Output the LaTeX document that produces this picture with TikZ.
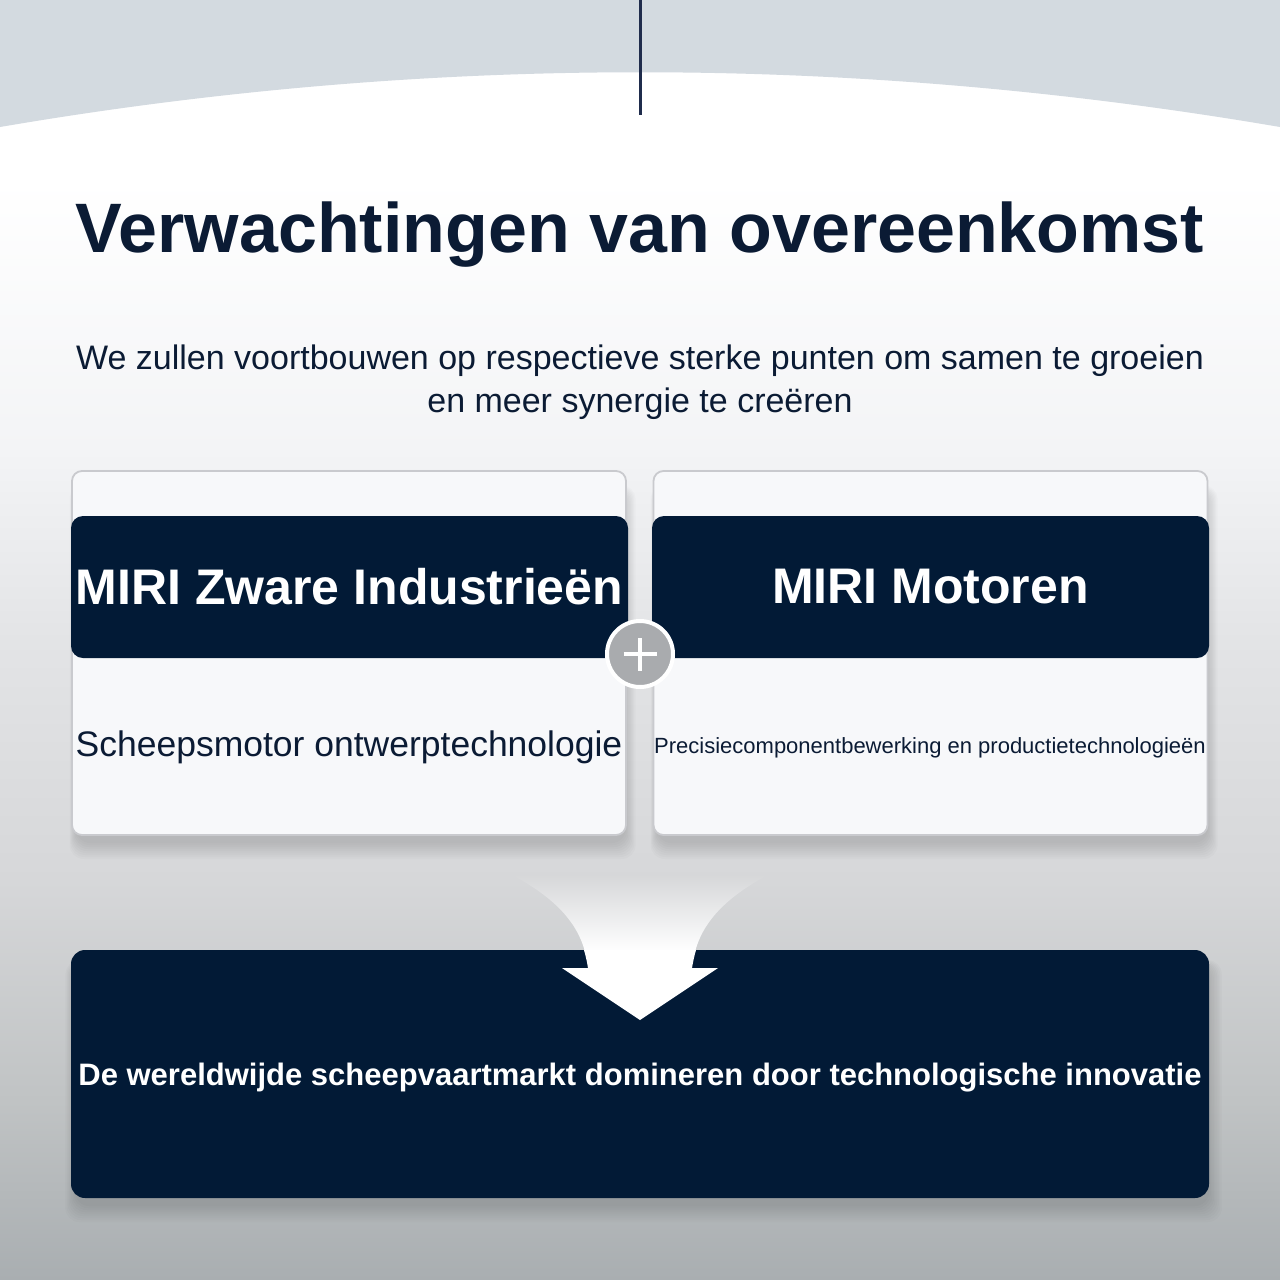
\documentclass[tikz,border=0pt]{standalone}
\usepackage{fontspec}
\setmainfont{Liberation Sans}
\definecolor{navy}{HTML}{021A36}
\definecolor{titleblue}{HTML}{0B1B34}
\definecolor{linenavy}{HTML}{1F2C4C}
\definecolor{topgray}{HTML}{D3DAE0}
\definecolor{cardfill}{HTML}{F7F8FA}
\definecolor{cardline}{HTML}{C9CACE}
\definecolor{plusgray}{HTML}{A9ABAE}
\definecolor{bgA}{HTML}{F3F4F6}
\definecolor{bgB}{HTML}{E3E4E6}
\definecolor{bgC}{HTML}{D6D7D9}
\definecolor{bgD}{HTML}{C0C3C4}
\definecolor{bgbottom}{HTML}{A9AEB1}
\definecolor{funneltop}{HTML}{D6D7D9}
% page background, 25bp = bottom of the page, 75bp = top of the page
\pgfdeclareverticalshading{pagebg}{100bp}{color(0bp)=(bgbottom);
  color(25bp)=(bgbottom); color(32bp)=(bgD); color(40.6bp)=(bgC);
  color(50bp)=(bgB); color(57.4bp)=(bgA); color(68bp)=(white);
  color(100bp)=(white)}
\tikzset{%
  % Specifications for style of nodes:
        base/.style = {rectangle, inner sep=0pt, text centered},
        card/.style = {base, rounded corners=10pt, fill=cardfill,
                       draw=cardline, line width=1.8pt,
                       minimum width=554pt, minimum height=364pt},
      header/.style = {base, rounded corners=12pt, fill=navy, text=white,
                       minimum width=557pt, minimum height=142pt,
                       font=\fontsize{50}{60}\selectfont\bfseries},
      result/.style = {base, rounded corners=14pt, fill=navy,
                       minimum width=1138pt, minimum height=248pt},
    bodytext/.style = {base, anchor=base, text=titleblue},
    plusmark/.style = {circle, fill=plusgray, draw=white, line width=4pt,
                       minimum size=66pt, inner sep=0pt},
  softshadow/.style = {black, opacity=0.016, rounded corners=14pt},
}

\begin{document}
\begin{tikzpicture}[x=1pt, y=-1pt]
  \useasboundingbox (0,0) rectangle (1280,1280);

  % background and top band
  \shade[shading=pagebg] (0,0) rectangle (1280,1280);
  \fill[topgray] (0,0) -- (1280,0) -- (1280,127)
    .. controls (853,54) and (427,54) .. (0,127) -- cycle;
  \coordinate (linetop) at (640,0);
  \coordinate (linebottom) at (640,115);
  \draw[linenavy, line width=3pt] (linetop) -- (linebottom);

  % Specification of texts on top
  \node (title) [bodytext, font=\fontsize{70}{84}\selectfont\bfseries]
    at (640,252) {Verwachtingen van overeenkomst};
  \node (subtitle) [base, text=titleblue, align=center,
    font=\fontsize{34}{43}\selectfont] at (640,382)
    {We zullen voortbouwen op respectieve sterke punten om samen te groeien\\
     en meer synergie te creëren};

  % soft shadows under the cards and the result box
  \foreach \s in {0,2,...,16} {
    \fill[softshadow] (76-0.4*\s,490-0.3*\s) rectangle (626+0.6*\s,843+\s);
    \fill[softshadow] (657-0.4*\s,490-0.3*\s) rectangle (1208+0.6*\s,843+\s);
    \fill[softshadow] (75-0.6*\s,965-0.3*\s) rectangle (1209+0.8*\s,1206+\s);
  }

  % the two cards
  \node (leftcard)  [card] at (349,653) {};
  \node (rightcard) [card] at (930.5,653) {};
  \node (leftbar)   [header] at (349.5,587) {MIRI Zware Industrieën};
  \node (rightbar)  [header] at (930.5,587) {MIRI Motoren};
  \node (leftbody)  [bodytext, font=\fontsize{35.5}{42}\selectfont]
    at (349,756) {Scheepsmotor ontwerptechnologie};
  \node (rightbody) [bodytext, font=\fontsize{22}{26}\selectfont]
    at (930,753) {Precisiecomponentbewerking en productietechnologieën};

  % plus between the cards
  \node (plussign) [plusmark] at (640,654) {};
  \draw[white, line width=3.5pt]
    ([xshift=-16.5pt]plussign.center) -- ([xshift=16.5pt]plussign.center);
  \draw[white, line width=3.5pt]
    ([yshift=-16.5pt]plussign.center) -- ([yshift=16.5pt]plussign.center);

  % result box with the arrow
  \node (goal) [result] at (640,1074) {};
  \shade[top color=funneltop, middle color=white!96!funneltop,
    bottom color=white] (512,875)
    .. controls (556,898) and (578,924) .. (585,952) -- (695,952)
    .. controls (702,924) and (724,898) .. (768,875) -- cycle;
  \fill[white] (584,950) .. controls (586,957) and (587,962) .. (588,968)
    -- (562,968) -- (640,1020) -- (718,968) -- (692,968)
    .. controls (693,962) and (694,957) .. (696,950) -- cycle;
  \node (goaltext) [bodytext, text=white,
    font=\fontsize{31}{37}\selectfont\bfseries] at (640,1085)
    {De wereldwijde scheepvaartmarkt domineren door technologische innovatie};
\end{tikzpicture}
\end{document}
